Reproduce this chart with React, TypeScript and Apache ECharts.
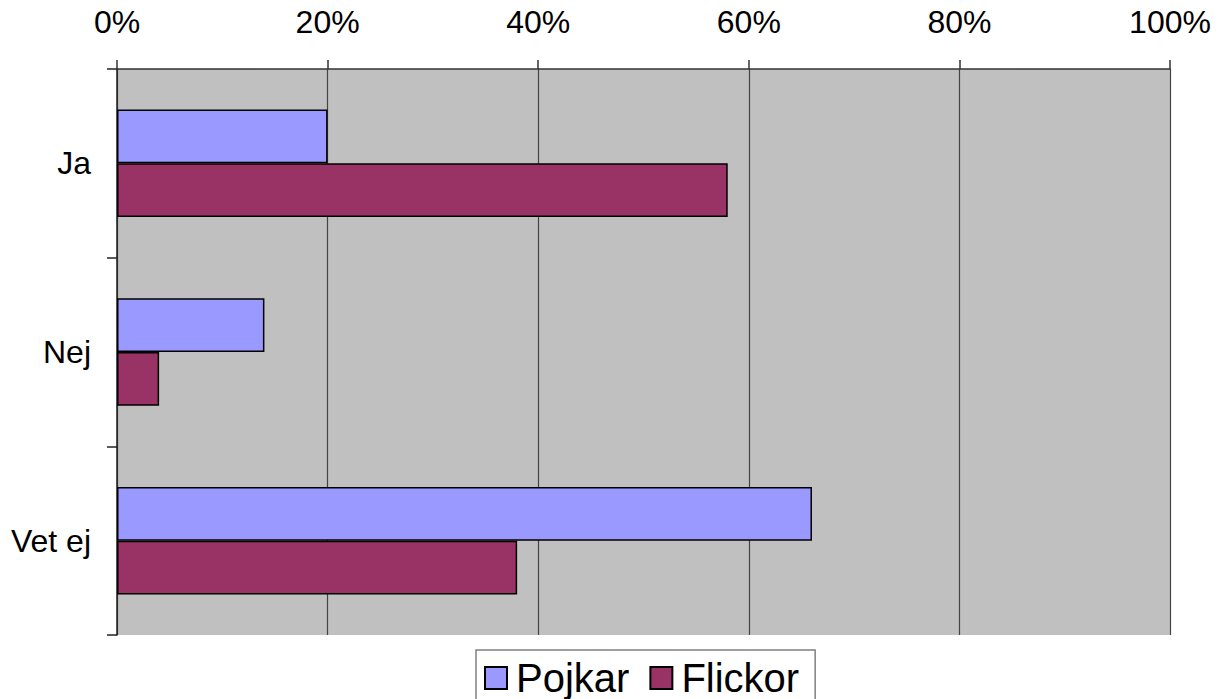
import React, { useEffect, useRef } from "react";
import * as echarts from "echarts";

const categories = ["Ja", "Nej", "Vet ej"];
const pojkar = [20, 14, 66];
const flickor = [58, 4, 38];
const xTicks = [0, 20, 40, 60, 80, 100];

export default function App() {
  const ref = useRef<HTMLDivElement>(null);
  useEffect(() => {
    const chart = echarts.init(ref.current!, null, { renderer: "svg" });
    chart.setOption({
      animation: false,
      backgroundColor: "#ffffff",
      textStyle: { fontFamily: "'Liberation Sans', Arial, sans-serif" },
      grid: {
        left: 117,
        right: 49,
        top: 69,
        bottom: 64,
        show: true,
        backgroundColor: "#C0C0C0",
        borderWidth: 0,
      },
      legend: {
        data: ["Pojkar", "Flickor"],
        left: 476,
        top: 650,
        padding: [8, 16, 20, 8],
        itemGap: 20,
        itemWidth: 22,
        itemHeight: 22,
        backgroundColor: "#ffffff",
        borderColor: "#808080",
        borderWidth: 1.5,
        borderRadius: 0,
        icon: "rect",
        textStyle: {
          fontSize: 40,
          color: "#000",
          padding: [0, 0, 0, 4],
        },
      },
      xAxis: {
        type: "value",
        position: "top",
        min: xTicks[0],
        max: xTicks[xTicks.length - 1],
        interval: 20,
        axisLine: { show: true, lineStyle: { color: "#333", width: 1.5 } },
        axisTick: { show: true, length: 9, lineStyle: { color: "#333", width: 1.5 } },
        axisLabel: {
          formatter: "{value}%",
          fontSize: 32,
          color: "#000",
          margin: 31,
        },
        splitLine: { show: true, lineStyle: { color: "#444", width: 1.2 } },
      },
      yAxis: {
        type: "category",
        data: categories,
        inverse: true,
        axisLine: { show: true, lineStyle: { color: "#222", width: 1.5 } },
        axisTick: { show: true, length: 10, lineStyle: { color: "#222", width: 1.5 } },
        axisLabel: { fontSize: 32, color: "#000", margin: 26 },
        splitLine: { show: false },
      },
      series: [
        {
          name: "Pojkar",
          type: "bar",
          data: pojkar,
          barGap: "0%",
          barCategoryGap: "43%",
          itemStyle: { color: "#9999FF", borderColor: "#000", borderWidth: 1.5 },
        },
        {
          name: "Flickor",
          type: "bar",
          data: flickor,
          barGap: "0%",
          barCategoryGap: "43%",
          itemStyle: { color: "#993366", borderColor: "#000", borderWidth: 1.5 },
        },
      ],
    });
    return () => chart.dispose();
  }, []);
  return (
    <div
      ref={ref}
      style={{ position: "fixed", left: 0, top: 0, width: 1219, height: 699 }}
    />
  );
}
